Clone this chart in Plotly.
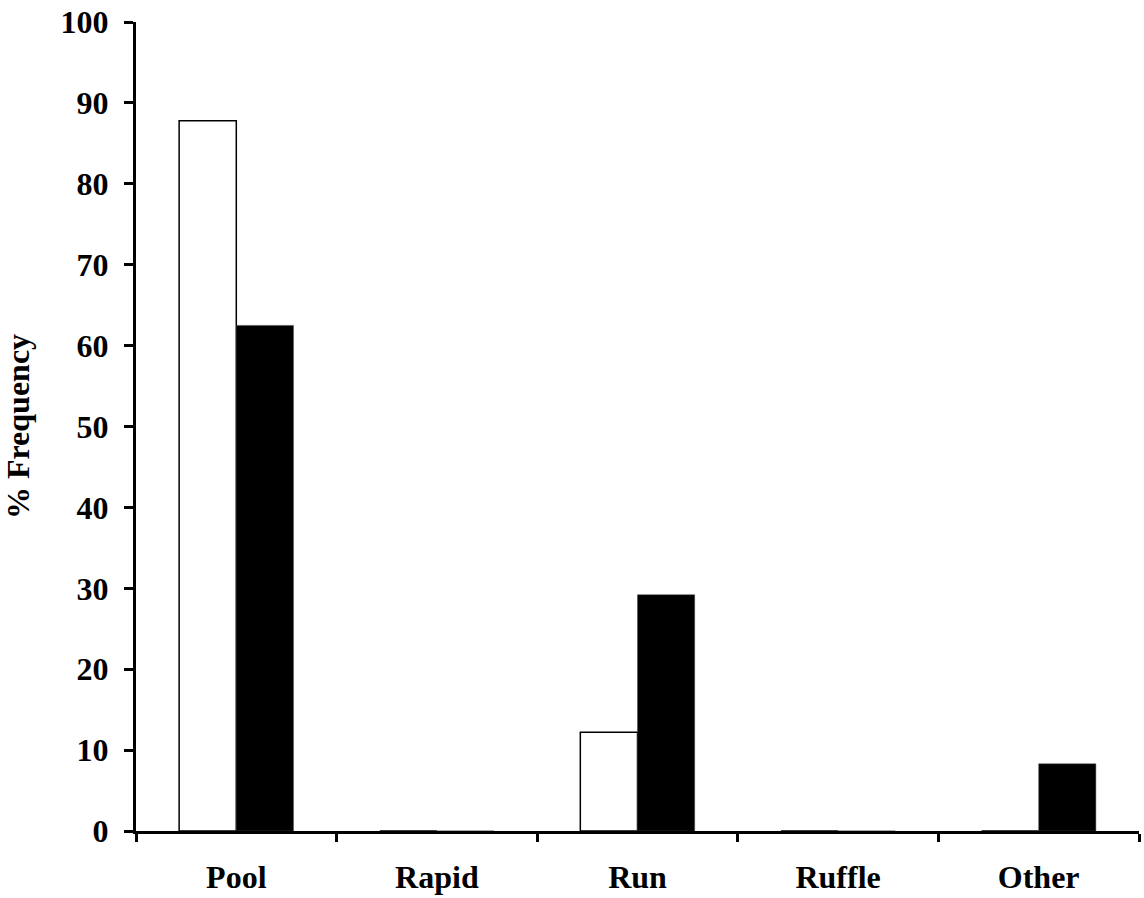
import plotly.graph_objects as go

categories = ["Pool", "Rapid", "Run", "Ruffle", "Other"]
series_open = [87.8, 0, 12.2, 0, 0]
series_filled = [62.5, 0, 29.2, 0, 8.3]
y_ticks = [0, 10, 20, 30, 40, 50, 60, 70, 80, 90, 100]

FONT = dict(family="Liberation Serif, Times New Roman, serif", size=32, color="black", weight="bold")

fig = go.Figure()
fig.add_trace(go.Bar(x=categories, y=series_open, name="Open",
                     marker=dict(color="white", line=dict(color="black", width=1.5))))
fig.add_trace(go.Bar(x=categories, y=series_filled, name="Filled",
                     marker=dict(color="black", line=dict(color="#444444", width=0.5))))

fig.update_layout(
    width=1144, height=898,
    margin=dict(l=136, r=5, t=22, b=67, autoexpand=False),
    paper_bgcolor="white", plot_bgcolor="white",
    barmode="group", bargap=0.43, bargroupgap=0,
    showlegend=False,
    font=FONT,
)
fig.update_xaxes(
    type="category", tickson="boundaries",
    showline=True, linecolor="black", linewidth=3,
    ticks="outside", ticklen=8, tickwidth=3, tickcolor="black",
    showgrid=False, zeroline=False,
    tickfont=FONT, ticklabelstandoff=16, ticklabeloverflow="allow",
)
fig.update_yaxes(
    range=[0, 100], tickvals=y_ticks, ticktext=[str(v) for v in y_ticks],
    showline=True, linecolor="black", linewidth=3,
    ticks="outside", ticklen=9, tickwidth=3, tickcolor="black",
    showgrid=False, zeroline=False,
    tickfont=FONT, ticklabelstandoff=9, ticklabeloverflow="allow",
    title=dict(text="% Frequency", font=FONT, standoff=27),
)

fig.write_html("out.html", config={"displayModeBar": False},
               post_script="document.body.style.margin='0';")
